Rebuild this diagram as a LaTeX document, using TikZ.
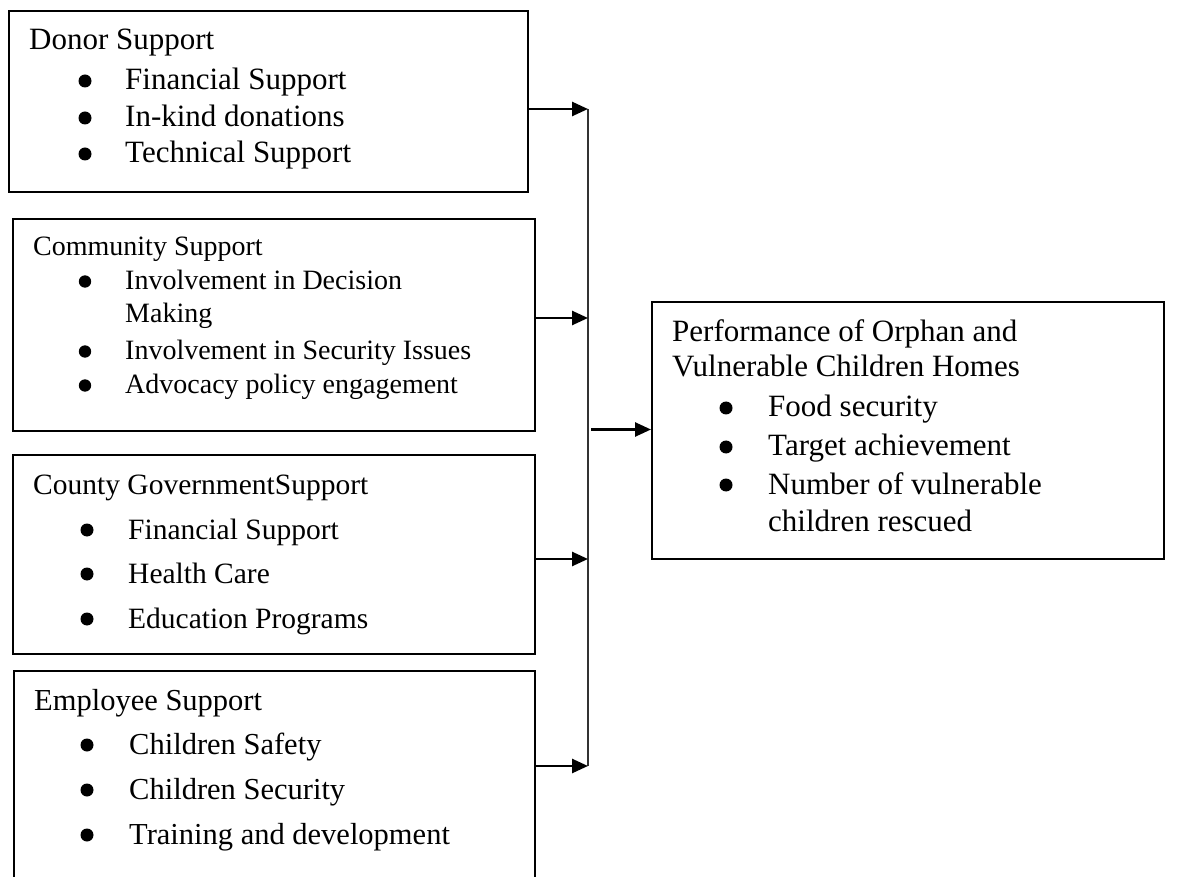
\documentclass[tikz,border=0pt]{standalone}
\usepackage{fontspec}
\setmainfont{Liberation Serif}
\usetikzlibrary{arrows.meta}

\begin{document}
\begin{tikzpicture}[x=1pt,y=-1pt,
  box/.style={rectangle,draw=black,line width=2pt,anchor=north west,inner sep=0pt},
  txt/.style={anchor=base west,inner sep=0pt},
  arr/.style={line width=2.6pt,-{Triangle[length=16pt,width=14pt]}}]
\clip (0,0) rectangle (1179,877);
\fill[white] (0,0) rectangle (1179,877);

% left boxes
\node[box,minimum width=519.5pt,minimum height=181pt] (donor) at (7.5,10) {};
\node[box,minimum width=522pt,minimum height=212pt] (community) at (12,218) {};
\node[box,minimum width=522pt,minimum height=199pt] (county) at (12,454) {};
\node[box,minimum width=521.5pt,minimum height=240pt] (employee) at (12.5,670) {};

% result box
\node[box,minimum width=512pt,minimum height=257pt] (perf) at (651,301) {};

\begin{scope}[font=\fontsize{31}{36}\selectfont]
\node[txt] (donorT) at (29,50) {Donor Support};
\foreach \y/\t [count=\i] in {90/Financial Support,127/In-kind donations,163/Technical Support}{
  \node[txt] (donor\i) at (125,\y) {\t};
  \fill (donor\i.base west) ++(-40,-9) circle (6.5pt);}
\end{scope}

\begin{scope}[font=\fontsize{28}{33}\selectfont]
\node[txt] (communityT) at (33,256) {Community Support};
\node[txt] (community1) at (125,290) {Involvement in Decision};
\node[txt] (community1b) at (125,323) {Making};
\node[txt] (community2) at (125,360) {Involvement in Security Issues};
\node[txt] (community3) at (125,394) {Advocacy policy engagement};
\foreach \i in {1,2,3}
  \fill (community\i.base west) ++(-40,-8.5) circle (6.2pt);
\end{scope}

\begin{scope}[font=\fontsize{29.5}{35}\selectfont]
\node[txt] (countyT) at (33,494) {County GovernmentSupport};
\foreach \y/\t [count=\i] in {539/Financial Support,583/Health Care,628/Education Programs}{
  \node[txt] (county\i) at (128,\y) {\t};
  \fill (county\i.base west) ++(-41,-9) circle (6.5pt);}
\end{scope}

\begin{scope}[font=\fontsize{30.5}{36}\selectfont]
\node[txt] (employeeT) at (34,710) {Employee Support};
\foreach \y/\t [count=\i] in {754/Children Safety,799/Children Security,844/Training and development}{
  \node[txt] (employee\i) at (129,\y) {\t};
  \fill (employee\i.base west) ++(-42,-9) circle (6.5pt);}
\end{scope}

\begin{scope}[font=\fontsize{31}{36}\selectfont]
\node[txt] (perfT1) at (672,342) {Performance of Orphan and};
\node[txt] (perfT2) at (672,377) {Vulnerable Children Homes};
\foreach \y/\t [count=\i] in {417/Food security,456/Target achievement,494/Number of vulnerable}{
  \node[txt] (perf\i) at (768,\y) {\t};
  \fill (perf\i.base west) ++(-42,-9) circle (6.5pt);}
\node[txt] (perf3b) at (768,531) {children rescued};
\end{scope}

% collecting line
\coordinate (bus1) at (588,109);
\coordinate (bus2) at (588,318);
\coordinate (bus3) at (588,559);
\coordinate (bus4) at (588,766);
\coordinate (out) at (591,429.5);
\draw[line width=1.2pt,black!80] (bus1) -- (bus4);

\draw[arr] (donor.east |- bus1) -- (bus1);
\draw[arr] (community.east |- bus2) -- (bus2);
\draw[arr] (county.east |- bus3) -- (bus3);
\draw[arr] (employee.east |- bus4) -- (bus4);
\draw[arr] (out) -- (perf.west |- out);
\end{tikzpicture}
\end{document}
